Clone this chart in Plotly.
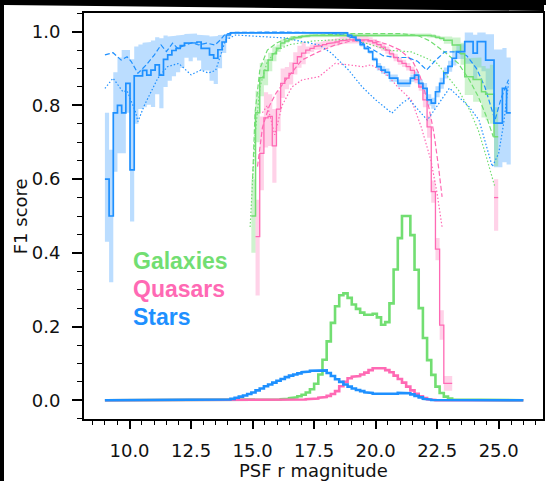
import plotly.graph_objects as go

# ---------------- data ----------------
# magnitude bin grid (0.17 mag bins from 9.0 to 26.0)
MAG_EDGES = [round(9.0 + 0.17 * i, 2) for i in range(101)]

# Stars F1 (solid step), starts at bin 0
STAR_F1_START = 0
STAR_F1 = [0.60, 0.50, 0.78, 0.80, 0.78, 0.86, 0.625, 0.88, 0.88, 0.895,
           0.882, 0.896, 0.91, 0.882, 0.925, 0.937, 0.949, 0.955, 0.962, 0.969,
           0.97, 0.97, 0.972, 0.955, 0.955, 0.937, 0.928, 0.951, 0.972, 0.991,
           0.997, 0.997, 0.997, 0.997, 0.997, 0.997, 0.997, 0.997, 0.997, 0.997,
           0.997, 0.997, 0.997, 0.997, 0.997, 0.997, 0.997, 0.997, 0.997, 0.997,
           0.997, 0.997, 0.997, 0.997, 0.997, 0.997, 0.997, 0.997, 0.99, 0.985,
           0.977, 0.965, 0.955, 0.945, 0.925, 0.905, 0.896, 0.89, 0.874, 0.874,
           0.86, 0.86, 0.86, 0.874, 0.882, 0.86, 0.846, 0.815, 0.806, 0.837,
           0.86, 0.888, 0.906, 0.928, 0.946, 0.946, 0.973, 0.973, 0.942, 0.973,
           0.973, 0.923, 0.923, 0.752, 0.752, 0.846, 0.78]
STAR_LO = [0.17, 0.18, 0.16, 0.13, 0.11, 0.08, 0.14, 0.13, 0.09, 0.10,
           0.08, 0.10, 0.08, 0.09, 0.075, 0.07, 0.07, 0.065, 0.06, 0.04,
           0.05, 0.04, 0.05, 0.06, 0.06, 0.07, 0.07, 0.05, 0.03, 0.01,
           0.003, 0.003, 0.003, 0.003, 0.003, 0.003, 0.003, 0.003, 0.003, 0.003,
           0.003, 0.003, 0.003, 0.003, 0.003, 0.003, 0.003, 0.003, 0.003, 0.003,
           0.003, 0.003, 0.003, 0.003, 0.003, 0.003, 0.003, 0.003, 0.005, 0.005,
           0.005, 0.005, 0.005, 0.005, 0.005, 0.01, 0.01, 0.01, 0.01, 0.01,
           0.01, 0.01, 0.01, 0.01, 0.01, 0.01, 0.015, 0.015, 0.015, 0.015,
           0.015, 0.015, 0.015, 0.02, 0.02, 0.02, 0.06, 0.06, 0.07, 0.07,
           0.08, 0.08, 0.08, 0.12, 0.12, 0.20, 0.14]
STAR_HI = [0.18, 0.18, 0.11, 0.13, 0.17, 0.09, 0.30, 0.08, 0.085, 0.075,
           0.09, 0.08, 0.075, 0.10, 0.065, 0.05, 0.04, 0.035, 0.03, 0.025,
           0.025, 0.025, 0.02, 0.035, 0.035, 0.05, 0.06, 0.04, 0.02, 0.005,
           0.003, 0.003, 0.003, 0.003, 0.003, 0.003, 0.003, 0.003, 0.003, 0.003,
           0.003, 0.003, 0.003, 0.003, 0.003, 0.003, 0.003, 0.003, 0.003, 0.003,
           0.003, 0.003, 0.003, 0.003, 0.003, 0.003, 0.003, 0.003, 0.005, 0.005,
           0.005, 0.005, 0.005, 0.005, 0.005, 0.01, 0.01, 0.01, 0.01, 0.01,
           0.01, 0.01, 0.01, 0.01, 0.01, 0.01, 0.015, 0.015, 0.015, 0.015,
           0.015, 0.015, 0.015, 0.02, 0.02, 0.02, 0.025, 0.025, 0.05, 0.025,
           0.025, 0.07, 0.07, 0.20, 0.20, 0.11, 0.15]

# Galaxies F1 (solid step), starts at bin 35
GAL_F1_START = 35
GAL_F1 = [0.50, 0.78, 0.875, 0.895, 0.923, 0.94, 0.955, 0.969, 0.975, 0.98,
          0.983, 0.985, 0.987, 0.989, 0.99, 0.992, 0.992, 0.992, 0.992, 0.992,
          0.992, 0.992, 0.992, 0.992, 0.992, 0.992, 0.992, 0.992, 0.992, 0.992,
          0.992, 0.992, 0.992, 0.992, 0.992, 0.992, 0.992, 0.992, 0.992, 0.992,
          0.992, 0.992, 0.99, 0.988, 0.985, 0.982, 0.977, 0.977, 0.964, 0.964,
          0.94, 0.878, 0.878, 0.87, 0.87, 0.837, 0.83, 0.83, 0.715]
GAL_LO = [0.10, 0.08, 0.05, 0.04, 0.03, 0.02, 0.01, 0.01, 0.005, 0.005,
          0.005, 0.005, 0.005, 0.005, 0.005, 0.005, 0.005, 0.005, 0.005, 0.005,
          0.005, 0.005, 0.005, 0.005, 0.005, 0.005, 0.005, 0.005, 0.005, 0.005,
          0.005, 0.005, 0.005, 0.005, 0.005, 0.005, 0.005, 0.005, 0.005, 0.005,
          0.005, 0.005, 0.005, 0.005, 0.005, 0.005, 0.01, 0.01, 0.02, 0.02,
          0.03, 0.05, 0.05, 0.06, 0.06, 0.07, 0.07, 0.08, 0.08]
GAL_HI = [0.10, 0.06, 0.04, 0.03, 0.02, 0.02, 0.01, 0.01, 0.005, 0.005,
          0.005, 0.005, 0.005, 0.005, 0.005, 0.005, 0.005, 0.005, 0.005, 0.005,
          0.005, 0.005, 0.005, 0.005, 0.005, 0.005, 0.005, 0.005, 0.005, 0.005,
          0.005, 0.005, 0.005, 0.005, 0.005, 0.005, 0.005, 0.005, 0.005, 0.005,
          0.005, 0.005, 0.005, 0.005, 0.005, 0.005, 0.01, 0.01, 0.02, 0.02,
          0.03, 0.05, 0.05, 0.06, 0.06, 0.07, 0.07, 0.08, 0.08]

# Quasars F1 (solid step), starts at bin 36 (None = no data)
QSO_F1_START = 36
QSO_F1 = [0.444, 0.67, 0.766, 0.77, 0.69, 0.79, 0.86, 0.874, 0.887, 0.914,
          0.932, 0.942, 0.95, 0.955, 0.96, 0.962, 0.965, 0.968, 0.97, 0.972,
          0.975, 0.977, 0.978, 0.98, 0.98, 0.98, 0.978, 0.975, 0.97, 0.965,
          0.958, 0.95, 0.94, 0.93, 0.92, 0.914, 0.905, 0.895, 0.87, 0.85,
          0.815, 0.742, 0.566, 0.41, 0.204, 0.046, 0.046,
          None, None, None, None, None, None, None, None, None, None, 0.55]
QSO_LO = [0.16, 0.10, 0.08, 0.08, 0.10, 0.06, 0.04, 0.03, 0.03, 0.03,
          0.03, 0.03, 0.01, 0.01, 0.01, 0.01, 0.01, 0.01, 0.01, 0.01,
          0.01, 0.01, 0.01, 0.01, 0.01, 0.01, 0.01, 0.01, 0.01, 0.01,
          0.01, 0.01, 0.01, 0.01, 0.01, 0.01, 0.01, 0.01, 0.01, 0.01,
          0.02, 0.03, 0.03, 0.03, 0.04, 0.02, 0.02,
          None, None, None, None, None, None, None, None, None, None, 0.09]
QSO_HI = [0.10, 0.10, 0.07, 0.06, 0.10, 0.05, 0.04, 0.03, 0.03, 0.03,
          0.03, 0.03, 0.01, 0.01, 0.01, 0.01, 0.01, 0.01, 0.01, 0.01,
          0.01, 0.01, 0.01, 0.01, 0.01, 0.01, 0.01, 0.01, 0.01, 0.01,
          0.01, 0.01, 0.01, 0.01, 0.01, 0.01, 0.01, 0.01, 0.01, 0.01,
          0.02, 0.03, 0.03, 0.03, 0.04, 0.02, 0.02,
          None, None, None, None, None, None, None, None, None, None, 0.05]

# Alternative models (dashed / dotted), vertices
STAR_DASH_X = [9.0, 9.33, 9.66, 9.9, 10.07, 10.34, 10.68, 11.01, 11.28, 11.5, 11.75,
               11.95, 12.28, 12.55, 12.8, 13.14, 13.47, 13.68, 13.88, 14.3, 16.0,
               18.0, 18.8, 19.3, 19.8, 20.3, 20.8, 21.3, 21.7, 22.07, 22.4, 22.8,
               23.3, 23.7, 24.1, 24.44, 24.85, 25.1, 25.4]
STAR_DASH_Y = [0.937, 0.943, 0.923, 0.932, 0.919, 0.887, 0.91, 0.937, 0.964, 0.946, 0.969,
               0.955, 0.964, 0.97, 0.964, 0.969, 0.964, 0.977, 0.993, 0.998, 0.999,
               0.997, 0.99, 0.975, 0.955, 0.935, 0.93, 0.93, 0.92, 0.896, 0.92, 0.945,
               0.945, 0.935, 0.90, 0.85, 0.76, 0.82, 0.87]
STAR_DOT_X = [9.0, 9.33, 9.73, 9.9, 10.24, 10.34, 10.6, 11.15, 11.54, 12.0, 12.5,
              12.9, 13.2, 13.5, 13.68, 13.9, 14.3, 16.3, 17.7, 18.2, 18.9, 19.44,
              20.0, 20.66, 21.07, 21.34, 22.1, 23.0, 23.8, 24.2, 24.74, 25.0, 25.2, 25.4]
STAR_DOT_Y = [0.846, 0.874, 0.837, 0.84, 0.783, 0.756, 0.80, 0.874, 0.905, 0.914, 0.883,
              0.896, 0.888, 0.895, 0.932, 0.977, 0.991, 0.983, 0.964, 0.942, 0.896, 0.851,
              0.815, 0.779, 0.806, 0.818, 0.76, 0.847, 0.796, 0.76, 0.634, 0.67, 0.75, 0.86]

GAL_DASH_X = [15.0, 15.1, 15.3, 15.6, 16.0, 16.5, 17.5, 19.0, 21.0, 21.7, 22.2, 22.8,
              23.36, 23.8, 24.17, 24.5, 24.78]
GAL_DASH_Y = [0.60, 0.78, 0.90, 0.95, 0.97, 0.985, 0.99, 0.995, 0.995, 0.99, 0.975, 0.945,
              0.914, 0.87, 0.824, 0.77, 0.715]
GAL_DOT_X = [14.9, 15.1, 15.3, 15.6, 16.0, 16.5, 17.5, 19.0, 19.8, 20.5, 21.45, 22.0,
             22.5, 23.36, 23.8, 24.17, 24.5, 24.84]
GAL_DOT_Y = [0.47, 0.72, 0.85, 0.92, 0.95, 0.965, 0.975, 0.98, 0.965, 0.95, 0.945, 0.93,
             0.914, 0.842, 0.79, 0.733, 0.66, 0.58]

QSO_DASH_X = [15.2, 15.4, 15.67, 15.95, 16.36, 17.0, 17.7, 18.36, 19.0, 20.0, 20.5,
              21.0, 21.5, 21.8, 22.1, 22.37, 22.57, 22.7]
QSO_DASH_Y = [0.634, 0.74, 0.797, 0.833, 0.87, 0.923, 0.946, 0.964, 0.975, 0.975, 0.965,
              0.95, 0.92, 0.88, 0.815, 0.725, 0.625, 0.552]
QSO_DOT_X = [15.4, 15.6, 15.9, 16.2, 16.6, 17.0, 17.7, 18.36, 18.9, 19.5, 19.8, 20.1,
             20.5, 20.9, 21.45, 21.85, 22.25, 22.5, 22.7]
QSO_DOT_Y = [0.78, 0.80, 0.72, 0.80, 0.85, 0.869, 0.878, 0.914, 0.91, 0.905, 0.91, 0.90,
             0.88, 0.85, 0.815, 0.742, 0.65, 0.56, 0.47]

# Normalised magnitude distributions (step histograms)
STAR_HIST_START = 28
STAR_HIST = [0.0005, 0.002, 0.004, 0.007, 0.01, 0.013, 0.017, 0.021, 0.027, 0.032,
             0.038, 0.043, 0.048, 0.053, 0.058, 0.063, 0.067, 0.07, 0.073, 0.076,
             0.078, 0.08, 0.081, 0.082, 0.081, 0.074, 0.066, 0.057, 0.05, 0.043,
             0.037, 0.032, 0.028, 0.025, 0.022, 0.02, 0.018, 0.017, 0.016, 0.016,
             0.017, 0.018, 0.02, 0.021, 0.019, 0.016, 0.012, 0.008, 0.004, 0.002,
             0.001]
GAL_HIST_START = 40
GAL_HIST = [0.001, 0.002, 0.003, 0.004, 0.006, 0.008, 0.011, 0.015, 0.021, 0.03,
            0.045, 0.07, 0.11, 0.16, 0.21, 0.255, 0.285, 0.29, 0.278, 0.26,
            0.248, 0.238, 0.232, 0.232, 0.235, 0.225, 0.205, 0.212, 0.263, 0.355,
            0.44, 0.50, 0.50, 0.448, 0.354, 0.25, 0.169, 0.109, 0.069, 0.037,
            0.02, 0.01, 0.005, 0.002, 0.001]
QSO_HIST_START = 44
QSO_HIST = [0.001, 0.001, 0.002, 0.002, 0.003, 0.004, 0.005, 0.007, 0.009, 0.012,
            0.017, 0.025, 0.038, 0.05, 0.06, 0.064, 0.066, 0.07, 0.075, 0.082,
            0.087, 0.089, 0.087, 0.082, 0.076, 0.067, 0.058, 0.048, 0.037, 0.027,
            0.018, 0.011, 0.006, 0.003, 0.001]
HIST_RANGE = [9.0, 26.0]

LABELS = ["Galaxies", "Quasars", "Stars"]

# ---------------- style ----------------
BLUE = "#1E90FF"
PINK = "#FF69B4"
GREEN = "#72DE72"
BLUE_BAND = "rgba(30,144,255,0.30)"
PINK_BAND = "rgba(255,105,180,0.30)"
GREEN_BAND = "rgba(114,222,114,0.35)"

# page: black photo border of 4 px (left) and 5 px (top) around a 542x476 figure
FIG_W, FIG_H = 542, 476
OFF_L, OFF_T = 4, 5
M_L, M_R, M_T, M_B = 80, 1, 8, 62


def step_xy(start, vals):
    xs, ys = [], []
    for k, v in enumerate(vals):
        i = start + k
        if v is None:
            xs.append(None); ys.append(None)
            continue
        xs += [MAG_EDGES[i], MAG_EDGES[i + 1]]
        ys += [v, v]
    return xs, ys


def band_xy(start, vals, lo, hi):
    xs, ys = [], []
    seg = []
    for k, v in enumerate(vals + [None]):
        if v is None:
            if seg:
                ux, uy, lx, ly = [], [], [], []
                for (i, vv, l, h) in seg:
                    ux += [MAG_EDGES[i], MAG_EDGES[i + 1]]
                    uy += [min(vv + h, 1.0), min(vv + h, 1.0)]
                    lx += [MAG_EDGES[i], MAG_EDGES[i + 1]]
                    ly += [vv - l, vv - l]
                xs += ux + lx[::-1] + [ux[0], None]
                ys += uy + ly[::-1] + [uy[0], None]
                seg = []
            continue
        seg.append((start + k, v, lo[k], hi[k]))
    return xs, ys


def hist_xy(start, vals):
    xs = [HIST_RANGE[0], MAG_EDGES[start]]
    ys = [0, 0]
    sx, sy = step_xy(start, vals)
    xs += sx
    ys += sy
    end = MAG_EDGES[start + len(vals)]
    xs += [end, HIST_RANGE[1]]
    ys += [0, 0]
    return xs, ys


fig = go.Figure()

# uncertainty bands
for start, vals, lo, hi, col in [
    (STAR_F1_START, STAR_F1, STAR_LO, STAR_HI, BLUE_BAND),
    (GAL_F1_START, GAL_F1, GAL_LO, GAL_HI, GREEN_BAND),
    (QSO_F1_START, QSO_F1, QSO_LO, QSO_HI, PINK_BAND),
]:
    bx, by = band_xy(start, vals, lo, hi)
    fig.add_trace(go.Scatter(x=bx, y=by, mode="lines", fill="toself", fillcolor=col,
                             line=dict(width=0), hoverinfo="skip", showlegend=False))

# dashed / dotted alternative models
for x, y, col, dash in [
    (GAL_DASH_X, GAL_DASH_Y, GREEN, "5px,2.5px"),
    (GAL_DOT_X, GAL_DOT_Y, GREEN, "1.5px,2px"),
    (QSO_DASH_X, QSO_DASH_Y, PINK, "5px,2.5px"),
    (QSO_DOT_X, QSO_DOT_Y, PINK, "1.5px,2px"),
    (STAR_DASH_X, STAR_DASH_Y, BLUE, "5px,2.5px"),
    (STAR_DOT_X, STAR_DOT_Y, BLUE, "1.5px,2px"),
]:
    fig.add_trace(go.Scatter(x=x, y=y, mode="lines", line=dict(color=col, width=1.2, dash=dash),
                             hoverinfo="skip", showlegend=False))

# solid F1 step curves
for start, vals, col, w in [
    (GAL_F1_START, GAL_F1, GREEN, 1.5),
    (QSO_F1_START, QSO_F1, PINK, 1.3),
    (STAR_F1_START, STAR_F1, BLUE, 1.7),
]:
    sx, sy = step_xy(start, vals)
    fig.add_trace(go.Scatter(x=sx, y=sy, mode="lines", line=dict(color=col, width=w),
                             connectgaps=False, hoverinfo="skip", showlegend=False))

# magnitude distributions
for start, vals, col in [
    (GAL_HIST_START, GAL_HIST, GREEN),
    (QSO_HIST_START, QSO_HIST, PINK),
    (STAR_HIST_START, STAR_HIST, BLUE),
]:
    hx, hy = hist_xy(start, vals)
    fig.add_trace(go.Scatter(x=hx, y=hy, mode="lines", line=dict(color=col, width=2.6),
                             hoverinfo="skip", showlegend=False))

# class labels
for lab, col, yv in zip(LABELS, [GREEN, PINK, BLUE], [0.378, 0.302, 0.226]):
    fig.add_annotation(x=10.05, y=yv, text="<b>%s</b>" % lab, showarrow=False,
                       xanchor="left", yanchor="middle",
                       font=dict(family="Liberation Sans, Arial", size=23, color=col))

PW = FIG_W - M_L - M_R
PH = FIG_H - M_T - M_B
FONT = "DejaVu Sans"
fig.add_annotation(xref="paper", yref="paper", x=0.5, y=-(470 - OFF_T - (FIG_H - M_B)) / PH,
                   text="PSF r magnitude",
                   showarrow=False, xanchor="center", yanchor="middle",
                   font=dict(family=FONT, size=18, color="#111"))
fig.add_annotation(xref="paper", yref="paper", x=-(M_L - (20 - OFF_L)) / PW, y=0.5, text="F1 score",
                   textangle=-90, showarrow=False, xanchor="center", yanchor="middle",
                   font=dict(family=FONT, size=18, color="#111"))

# slanted lower edge of the black top border
fig.add_shape(type="path", xref="paper", yref="paper", layer="above",
              path="M %.4f,%.4f L %.4f,%.4f L %.4f,%.4f Z" % (
                  -M_L / PW, 1 + M_T / PH,
                  (FIG_W - M_L) / PW, 1 + M_T / PH,
                  (FIG_W - M_L) / PW, 1 + (M_T - 6) / PH),
              fillcolor="black", line=dict(width=0))

fig.update_layout(
    width=FIG_W, height=FIG_H,
    margin=dict(l=M_L, r=M_R, t=M_T, b=M_B),
    paper_bgcolor="white", plot_bgcolor="white",
    showlegend=False,
)
fig.update_xaxes(range=[8.15, 26.8], tickvals=[10, 12.5, 15, 17.5, 20, 22.5, 25],
                 ticktext=["10.0", "12.5", "15.0", "17.5", "20.0", "22.5", "25.0"],
                 ticks="outside", ticklen=8, tickwidth=1.5, tickcolor="black",
                 minor=dict(dtick=0.5, tick0=0, ticks="outside", ticklen=4, tickwidth=1.2, tickcolor="black"),
                 showline=True, linecolor="black", linewidth=2, mirror=True,
                 showgrid=False, zeroline=False, ticklabelstandoff=6,
                 tickfont=dict(family=FONT, size=18, color="#111"))
fig.update_yaxes(range=[-0.0507, 1.0507], tickvals=[0, 0.2, 0.4, 0.6, 0.8, 1.0],
                 ticktext=["0.0", "0.2", "0.4", "0.6", "0.8", "1.0"],
                 ticks="outside", ticklen=10, tickwidth=1.5, tickcolor="black",
                 minor=dict(dtick=0.05, tick0=0, ticks="outside", ticklen=5, tickwidth=1.2, tickcolor="black"),
                 showline=True, linecolor="black", linewidth=2, mirror=True,
                 showgrid=False, zeroline=False, ticklabelstandoff=8,
                 tickfont=dict(family=FONT, size=18, color="#111"))

POST = ("document.body.style.margin='0';document.body.style.background='black';"
        "document.body.style.overflow='hidden';"
        "var d=document.getElementById('{plot_id}');d.style.position='absolute';"
        "d.style.left='%dpx';d.style.top='%dpx';" % (OFF_L, OFF_T))
fig.write_html("out.html", config={"displayModeBar": False}, post_script=POST)
